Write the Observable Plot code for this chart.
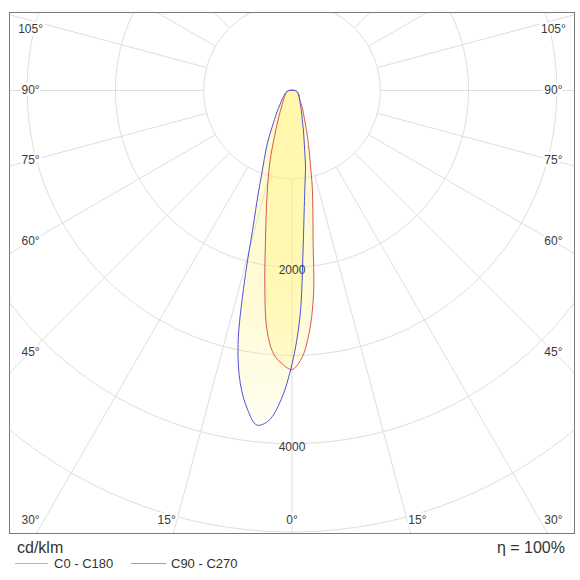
<!DOCTYPE html>
<html>
<head>
<meta charset="utf-8">
<script src="https://cdn.jsdelivr.net/npm/d3@7"></script>
<script src="https://cdn.jsdelivr.net/npm/@observablehq/plot@0.6"></script>
<style>
  html, body { margin: 0; padding: 0; background: #fff; }
  body { font-family: "Liberation Sans", Arial, sans-serif; color: #333; }
  #wrap { position: relative; width: 580px; height: 580px; overflow: hidden; }
  #chart { position: absolute; left: 0; top: 0; }
  .note { position: absolute; font-size: 16px; line-height: 1; white-space: nowrap; }
  .leg { position: absolute; font-size: 13px; line-height: 1; white-space: nowrap; }
  .sw { position: absolute; height: 1px; }
</style>
</head>
<body>
<div id="wrap"><div id="chart"></div></div>
<script>
// ---- data (luminous intensity, cd/klm) ----
const gamma = [0, 2, 4, 6, 8, 10, 12, 14, 16, 18, 20, 25, 30, 35, 40, 50, 60, 70, 80, 90];
const c0   = [3160, 3040, 2760, 2330, 1716, 1360, 1100, 860, 700, 580, 480, 320, 240, 175, 140, 104, 79, 66, 50, 35];
const c180 = [3160, 3100, 2990, 2720, 2213, 1730, 1400, 1150, 950, 775, 610, 380, 260, 195, 155, 111, 87, 70, 52, 36];
const c90  = [3100, 2570, 1800, 1330, 1060, 880, 690, 560, 470, 390, 335, 250, 193, 158, 132, 104, 89, 70, 52, 36];
const c270 = [3100, 3500, 3745, 3810, 3640, 3370, 2940, 2220, 1590, 1250, 1000, 660, 418, 295, 215, 140, 100, 75, 55, 36];

const rings = [1000, 2000, 3000, 4000, 5000];
const ringLabels = [2000, 4000];
const spokeAngles = d3.range(0, 360, 15);
const angleLabels = [0, 15, 30, 45, 60, 75, 90, 105];
const seriesNames = ["C0 - C180", "C90 - C270"];
const seriesColors = ["#e05252", "#5050dc"];
const unitText = "cd/klm";
const effText = "η = 100%";

// ---- helpers ----
const rad = d => d * Math.PI / 180;
const pt = (g, I, side) => ({x: side * I * Math.sin(rad(g)), y: -I * Math.cos(rad(g))});

function closedCurve(rightVals, leftVals) {
  const right = gamma.map((g, i) => pt(g, rightVals[i], 1)).reverse();
  const left = gamma.slice(1).map((g, i) => pt(g, leftVals[i + 1], -1));
  return right.concat(left);
}
const redPts = closedCurve(c0, c180);
const bluePts = closedCurve(c90, c270);

const ringPts = rings.flatMap(R => d3.range(0, 361, 2).map(a => ({ring: R, ...pt(a, R, 1)})));

// label placement box (data units)
const LX = 2961, BY = -4870, TY = 691, BY2 = -5300;
function labelPos(a, s) {
  const sn = Math.sin(rad(a)), cs = Math.cos(rad(a));
  if (sn > 1e-9) {
    const yS = -LX * cs / sn;
    if (yS >= BY) return {x: s * LX, y: Math.min(yS, TY)};
  }
  const xB = Math.min(LX, -BY2 * sn / cs);
  return {x: s * xB, y: BY};
}
const angleLabelData = angleLabels.flatMap(a =>
  (a === 0 ? [1] : [-1, 1]).map(s => ({text: a + "°", ...labelPos(a, s)})));

const grid = "#dedede";

const chart = Plot.plot({
  width: 580,
  height: 540,
  marginLeft: 9,
  marginRight: 6,
  marginTop: 12,
  marginBottom: 7,
  style: {fontFamily: "'Liberation Sans', Arial, sans-serif", fontSize: "12px", background: "white"},
  x: {domain: [-3200, 3200], axis: null},
  y: {domain: [-5017, 883], axis: null},
  marks: [
    Plot.line(ringPts, {x: "x", y: "y", z: "ring", stroke: grid, strokeWidth: 1, clip: "frame"}),
    Plot.link(spokeAngles, {
      x1: a => 1000 * Math.sin(rad(a)), y1: a => -1000 * Math.cos(rad(a)),
      x2: a => 7000 * Math.sin(rad(a)), y2: a => -7000 * Math.cos(rad(a)),
      stroke: grid, strokeWidth: 1, clip: "frame"
    }),
    Plot.line(bluePts, {x: "x", y: "y", curve: "catmull-rom-closed", fill: "url(#lampGlow)", stroke: "none"}),
    Plot.line(redPts, {x: "x", y: "y", curve: "catmull-rom-closed", fill: "url(#lampGlow)", stroke: "none"}),
    Plot.line(redPts, {x: "x", y: "y", curve: "catmull-rom-closed", stroke: seriesColors[0], strokeWidth: 1}),
    Plot.line(bluePts, {x: "x", y: "y", curve: "catmull-rom-closed", stroke: seriesColors[1], strokeWidth: 1}),
    Plot.text(ringLabels, {x: 0, y: d => -d, text: d => String(d), dy: 3, fill: "#3a3a3a", fontSize: 12}),
    Plot.text(angleLabelData, {x: "x", y: "y", text: "text", fill: "#3a3a3a", fontSize: 12,
      stroke: "white", strokeWidth: 5}),
    Plot.frame({stroke: "#7a7a7a", strokeWidth: 1})
  ]
});

// radial glow gradient centred on the luminaire
const sx = chart.scale("x"), sy = chart.scale("y");
const cx = sx.apply(0), cy = sy.apply(0), gr = Math.abs(sy.apply(-4000) - cy);
const defs = d3.select(chart).insert("defs", ":first-child");
const grad = defs.append("radialGradient").attr("id", "lampGlow")
  .attr("gradientUnits", "userSpaceOnUse").attr("cx", cx).attr("cy", cy).attr("r", gr);
grad.append("stop").attr("offset", 0).attr("stop-color", "#fff264").attr("stop-opacity", 0.32);
grad.append("stop").attr("offset", 0.6).attr("stop-color", "#fff264").attr("stop-opacity", 0.27);
grad.append("stop").attr("offset", 0.85).attr("stop-color", "#fff47a").attr("stop-opacity", 0.17);
grad.append("stop").attr("offset", 1).attr("stop-color", "#fff6a0").attr("stop-opacity", 0.06);

document.getElementById("chart").appendChild(chart);

// caption & legend below the plot
const wrap = document.getElementById("wrap");
function add(cls, text, style) {
  const el = document.createElement("div");
  el.className = cls;
  if (text) el.textContent = text;
  Object.assign(el.style, style);
  wrap.appendChild(el);
  return el;
}
add("note", unitText, {left: "17px", top: "540px"});
add("note", effText, {right: "15px", top: "540px"});
add("sw", "", {left: "15px", top: "563px", width: "33px", background: seriesColors[0], opacity: 0.6});
add("leg", seriesNames[0], {left: "54px", top: "557px"});
add("sw", "", {left: "131px", top: "563px", width: "35px", background: seriesColors[1], opacity: 0.6});
add("leg", seriesNames[1], {left: "171px", top: "557px"});
</script>
</body>
</html>
